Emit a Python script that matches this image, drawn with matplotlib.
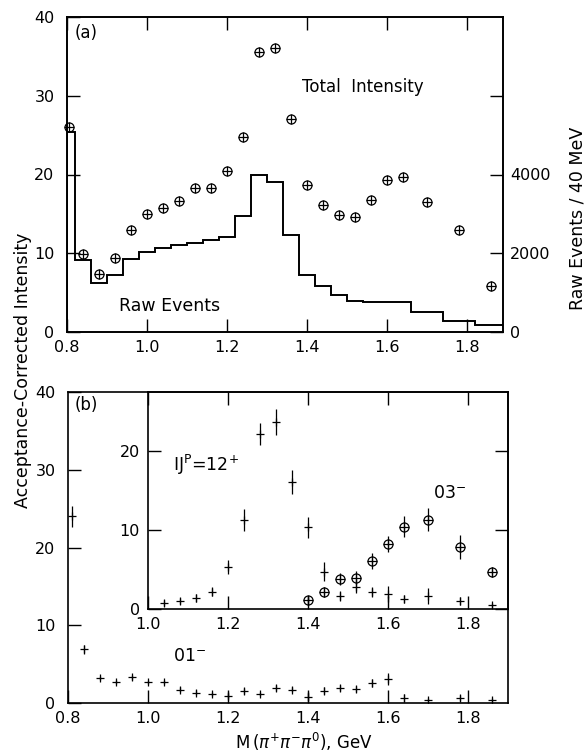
import numpy as np
import matplotlib
matplotlib.use('Agg')
import matplotlib.pyplot as plt

plt.rcParams['font.family'] = ['DejaVu Sans']
plt.rcParams['font.size'] = 11.5
plt.rcParams['mathtext.fontset'] = 'dejavusans'

# (a) total intensity (acceptance corrected)
tot_x = [0.805, 0.84, 0.88, 0.92, 0.96, 1.00, 1.04, 1.08, 1.12, 1.16, 1.20, 1.24, 1.28,
         1.32, 1.36, 1.40, 1.44, 1.48, 1.52, 1.56, 1.60, 1.64, 1.70, 1.78, 1.86]
tot_y = [26.0, 9.9, 7.4, 9.4, 12.9, 15.0, 15.7, 16.6, 18.3, 18.3, 20.5, 24.8, 35.5,
         36.1, 27.0, 18.7, 16.1, 14.9, 14.6, 16.8, 19.3, 19.7, 16.5, 12.9, 5.9]

# (a) raw events per bin
raw_edges = [0.80, 0.82, 0.86, 0.90, 0.94, 0.98, 1.02, 1.06, 1.10, 1.14, 1.18, 1.22, 1.26,
             1.30, 1.34, 1.38, 1.42, 1.46, 1.50, 1.54, 1.66, 1.74, 1.82, 1.90]
raw_counts = [5080, 1820, 1240, 1440, 1850, 2040, 2130, 2220, 2260, 2340, 2420, 2940,
              3980, 3800, 2460, 1460, 1160, 930, 780, 760, 500, 280, 180]

# (b) 01- wave
w01_x = [0.81, 0.84, 0.88, 0.92, 0.96, 1.00, 1.04, 1.08, 1.12, 1.16, 1.20, 1.24, 1.28,
         1.32, 1.36, 1.40, 1.44, 1.48, 1.52, 1.56, 1.60, 1.64, 1.70, 1.78, 1.86]
w01_y = [24.0, 6.9, 3.2, 2.7, 3.3, 2.7, 2.7, 1.7, 1.35, 1.15, 0.95, 1.5, 1.15,
         1.9, 1.7, 0.8, 1.6, 1.9, 1.85, 2.55, 3.1, 0.65, 0.4, 0.65, 0.4]
w01_e = [1.3, 0.6, 0.3, 0.3, 0.3, 0.3, 0.3, 0.3, 0.3, 0.3, 0.3, 0.4, 0.3,
         0.4, 0.3, 0.6, 0.4, 0.4, 0.4, 0.5, 0.8, 0.5, 0.3, 0.4, 0.3]

# (b) inset, 12+ wave
w12_x = [1.04, 1.08, 1.12, 1.16, 1.20, 1.24, 1.28, 1.32, 1.36, 1.40, 1.44, 1.48, 1.52,
         1.56, 1.60, 1.64, 1.70, 1.78, 1.86]
w12_y = [0.76, 1.0, 1.35, 2.2, 5.3, 11.2, 22.1, 23.6, 16.0, 10.3, 4.7, 1.65, 2.8,
         2.15, 1.85, 1.3, 1.6, 0.97, 0.47]
w12_e = [0.4, 0.4, 0.5, 0.6, 0.9, 1.4, 1.4, 1.6, 1.5, 1.3, 1.2, 0.6, 0.8,
         0.6, 1.0, 0.5, 1.0, 0.5, 0.3]

# (b) inset, 03- wave
w03_x = [1.40, 1.44, 1.48, 1.52, 1.56, 1.60, 1.64, 1.70, 1.78, 1.86]
w03_y = [1.1, 2.15, 3.8, 3.95, 6.05, 8.25, 10.4, 11.3, 7.8, 4.65]
w03_e = [0.6, 0.6, 0.8, 0.8, 1.0, 1.0, 1.3, 1.4, 1.5, 0.6]

W, H = 587, 754
fig = plt.figure(figsize=(W / 100, H / 100), dpi=100)


def rect(l, t, r, b):
    return [l / W, 1 - b / H, (r - l) / W, (b - t) / H]


def style(ax, lw=1.2):
    for s in ax.spines.values():
        s.set_linewidth(lw)
    ax.tick_params(direction='in', length=9.5, width=1.0)


mt = ['0.8', '1.0', '1.2', '1.4', '1.6', '1.8']
mx = [0.8, 1.0, 1.2, 1.4, 1.6, 1.8]

# ---- panel (a)
ax1 = fig.add_axes(rect(67, 17, 503, 332))
ax1r = ax1.twinx()
style(ax1)
style(ax1r)
ax1.set_xlim(0.8, 1.89)
ax1.set_ylim(0, 40)
ax1.set_xticks(mx)
ax1.set_xticklabels(mt)
ax1.set_yticks([0, 10, 20, 30, 40])
ax1.tick_params(axis='x', top=True, pad=6)
ax1.tick_params(axis='y', pad=9)
ax1r.set_ylim(0, 8000)
ax1r.set_yticks([0, 2000, 4000, 6000])
ax1r.set_yticklabels(['0', '2000', '4000', ''])
ax1r.tick_params(axis='y', pad=5)

ax1r.stairs(raw_counts, raw_edges, color='k', lw=1.4)
ax1.plot(tot_x, tot_y, 'o', mfc='none', mec='k', ms=6.5, mew=0.9, clip_on=False)
ax1.plot(tot_x, tot_y, '+', color='k', ms=6.5, mew=0.9, clip_on=False)

ax1.text(0.818, 38.0, '(a)', ha='left', va='center', fontsize=12)
ax1.text(1.388, 31.1, 'Total  Intensity', ha='left', va='center', fontsize=12)
ax1.text(0.93, 3.3, 'Raw Events', ha='left', va='center', fontsize=12.5)

# ---- panel (b)
ax2 = fig.add_axes(rect(68, 392, 508, 703))
style(ax2)
ax2.set_xlim(0.8, 1.9)
ax2.set_ylim(0, 40)
ax2.set_xticks(mx)
ax2.set_xticklabels(mt)
ax2.set_yticks([0, 10, 20, 30, 40])
ax2.tick_params(axis='x', pad=6)
ax2.tick_params(axis='y', pad=9)
ax2.errorbar(w01_x, w01_y, yerr=w01_e, fmt='+', color='k', ms=6, mew=0.9,
             elinewidth=0.9, capsize=0)
ax2.text(0.8175, 38.3, '(b)', ha='left', va='center', fontsize=12)
ax2.text(1.0625, 6.0, r'01$^{-}$', ha='left', va='center', fontsize=12.5)

ax3 = fig.add_axes(rect(148, 392, 508, 609))
ax3.set_facecolor('none')
style(ax3)
ax3.set_xlim(1.0, 1.9)
ax3.set_ylim(0, 27.4)
ax3.set_xticks(mx[1:])
ax3.set_xticklabels(mt[1:])
ax3.set_yticks([0, 10, 20])
ax3.tick_params(axis='x', top=True, pad=6)
ax3.tick_params(axis='y', right=True, pad=6)
ax3.errorbar(w12_x, w12_y, yerr=w12_e, fmt='+', color='k', ms=6, mew=0.9,
             elinewidth=0.9, capsize=0)
ax3.errorbar(w03_x, w03_y, yerr=w03_e, fmt='o', mfc='none', mec='k', color='k',
             ms=6.5, mew=0.9, elinewidth=0.9, capsize=0)
ax3.plot(w03_x, w03_y, '+', color='k', ms=6.5, mew=0.9)
ax3.text(1.0625, 18.2, r'IJ$^{\mathrm{P}}$=12$^{+}$', ha='left', va='center', fontsize=12.5)
ax3.text(1.7125, 14.6, r'03$^{-}$', ha='left', va='center', fontsize=12.5)

fig.text(23 / W, 1 - 370 / H, 'Acceptance-Corrected Intensity', rotation=90,
         ha='center', va='center', fontsize=12.5)
fig.text(578 / W, 1 - 218 / H, 'Raw Events / 40 MeV', rotation=90,
         ha='center', va='center', fontsize=12.5)
fig.text(304 / W, 1 - 742 / H, r'M$\,(\pi^{+}\pi^{-}\pi^{0})$, GeV',
         ha='center', va='center', fontsize=12)

fig.savefig('out.png', dpi=100)
